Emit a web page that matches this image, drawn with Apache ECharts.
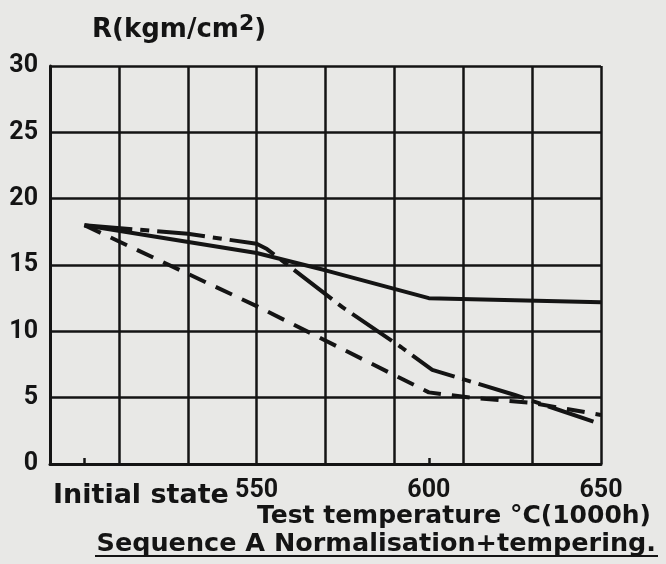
<!DOCTYPE html>
<html>
<head>
<meta charset="utf-8">
<script src="https://cdn.jsdelivr.net/npm/echarts@6/dist/echarts.min.js"></script>
<style>
  html, body { margin: 0; padding: 0; background: #e8e8e6; }
  #chart { width: 666px; height: 564px; }
</style>
</head>
<body>
<div id="chart"></div>
<script>
// ---- data ----
const solidT   = [500, 550, 570, 590, 600, 650];
const solidR   = [18, 15.9, 14.6, 13.2, 12.5, 12.2];

const dashT    = [500, 550, 600, 612, 630, 650];
const dashR    = [18, 11.9, 5.4, 5.0, 4.6, 3.7];

const dashDotT = [500, 530, 550, 553, 575, 592, 601, 625, 650];
const dashDotR = [18, 17.35, 16.6, 16.2, 11.8, 8.8, 7.1, 5.2, 3.0];

const xLabelValues = [500, 550, 600, 650];
const xLabelTexts  = ['Initial state', '550', '600', '650'];
const xTickValues  = [500, 600];

const yTicks = [0, 5, 10, 15, 20, 25, 30];

const yAxisTitle = 'R(kgm/cm{sup|2})';
const xAxisTitle = 'Test temperature °C(1000h)';
const captionText = 'Sequence A Normalisation+tempering.';

// ---- chart ----
const ink = '#141414';
const pair = (xs, ys) => xs.map((x, i) => [x, ys[i]]);

const chart = echarts.init(document.getElementById('chart'), null, { renderer: 'canvas' });

chart.setOption({
  backgroundColor: '#e8e8e6',
  animation: false,
  grid: { left: 50, right: 65, top: 66, bottom: 100 },
  title: [
    {
      text: xAxisTitle,
      right: 10, top: 499,
      textStyle: { fontFamily: 'DejaVu Sans', fontWeight: 'bold', fontSize: 25, color: ink }
    },
    {
      text: captionText,
      right: 5, top: 526,
      textStyle: { fontFamily: 'DejaVu Sans', fontWeight: 'bold', fontSize: 25.5, color: ink }
    }
  ],
  graphic: [
    { type: 'rect', shape: { x: 95, y: 555, width: 563, height: 2 }, style: { fill: ink } }
  ],
  xAxis: [
    {
      // grid columns (every 20 °C)
      type: 'value', position: 'bottom',
      min: 490, max: 650, interval: 20,
      axisLine: { show: true, onZero: false, lineStyle: { color: ink, width: 3 } },
      axisTick: { show: false },
      splitLine: { show: true, lineStyle: { color: ink, width: 2.5 } },
      axisLabel: { show: false }
    },
    {
      // labels and the small marks at the initial state and 600 °C
      type: 'value', position: 'bottom', offset: 0,
      min: 490, max: 650, interval: 20,
      axisLine: { show: false, onZero: false },
      splitLine: { show: false },
      axisTick: { show: true, inside: true, length: 6, customValues: xTickValues, lineStyle: { color: ink, width: 2.5 } },
      axisLabel: {
        customValues: xLabelValues,
        margin: 14,
        color: ink,
        fontFamily: 'Roboto', fontWeight: 'bold', fontSize: 25,
        formatter: function (v) {
          const i = xLabelValues.indexOf(v);
          if (i < 0) return '';
          if (i === 0) return '{init|' + xLabelTexts[i] + '}';
          if (i === 1) return '{raised|' + xLabelTexts[i] + '}';
          return xLabelTexts[i];
        },
        rich: {
          init: { fontFamily: 'DejaVu Sans', fontWeight: 'bold', fontSize: 27, color: ink, padding: [4, 0, 0, 113] },
          raised: { fontFamily: 'Roboto', fontWeight: 'bold', fontSize: 25, color: ink, padding: [0, 0, 6, 0] }
        }
      }
    }
  ],
  yAxis: {
    type: 'value',
    min: 0, max: 30, interval: 5,
    name: yAxisTitle,
    nameLocation: 'end',
    nameGap: 19,
    nameTextStyle: {
      align: 'left', verticalAlign: 'bottom',
      padding: [0, 0, 0, 42],
      fontFamily: 'DejaVu Sans', fontWeight: 'bold', fontSize: 26, color: ink,
      rich: {
        sup: { fontFamily: 'DejaVu Sans', fontWeight: 'bold', fontSize: 22, color: ink, padding: [0, 0, 12, 0] }
      }
    },
    axisLine: { show: true, lineStyle: { color: ink, width: 3 } },
    axisTick: { show: false },
    splitLine: { show: true, lineStyle: { color: ink, width: 2.5 } },
    axisLabel: {
      margin: 12, color: ink,
      fontFamily: 'Roboto', fontWeight: 'bold', fontSize: 25,
      formatter: v => yTicks.includes(v) ? String(v) : ''
    }
  },
  series: [
    {
      name: 'Solid', type: 'line', symbol: 'none', xAxisIndex: 0,
      data: pair(solidT, solidR),
      lineStyle: { color: ink, width: 4, type: 'solid' }
    },
    {
      name: 'Dashed', type: 'line', symbol: 'none', xAxisIndex: 0,
      data: pair(dashT, dashR),
      lineStyle: { color: ink, width: 4, type: [18, 11] }
    },
    {
      name: 'Dash-dot', type: 'line', symbol: 'none', xAxisIndex: 0,
      data: pair(dashDotT, dashDotR),
      lineStyle: { color: ink, width: 4, type: [48, 8, 9, 8] }
    }
  ]
});
</script>
</body>
</html>
